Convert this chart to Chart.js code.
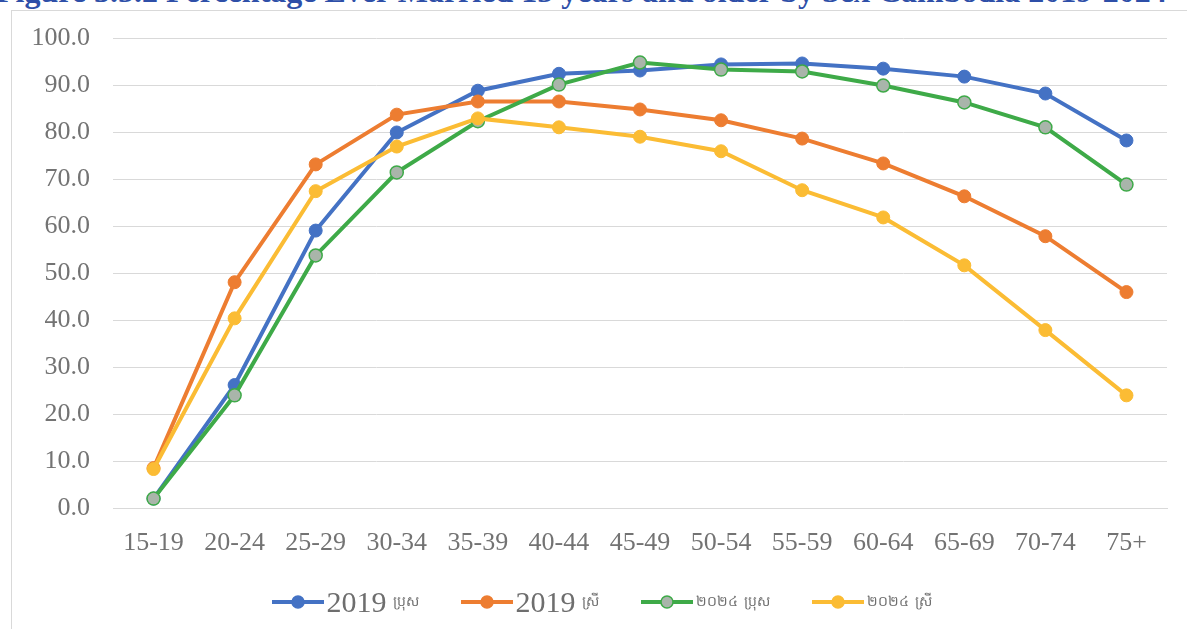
<!DOCTYPE html>
<html>
<head>
<meta charset="utf-8">
<script src="https://cdn.jsdelivr.net/npm/chart.js@4/dist/chart.umd.min.js"></script>
<style>
  html, body { margin: 0; padding: 0; background: #fff; }
  body { width: 1187px; height: 629px; position: relative; overflow: hidden; }
  #title { position: absolute; left: -4px; top: -27px; white-space: nowrap;
    font-family: "Liberation Serif", serif; font-weight: bold; font-size: 32px; color: #2E4FA8; }
  #frame { position: absolute; left: 11px; top: 10px; width: 1300px; height: 700px;
    border: 1px solid #d9d9d9; box-sizing: border-box; }
  #wrap { position: absolute; left: 0; top: 0; width: 1187px; height: 629px; }
  #legend { position: absolute; top: 585px; left: 8px; width: 1187px; display: flex; justify-content: center;
    align-items: center; gap: 0; font-family: "Liberation Serif", serif; color: #6e6e6e; }
  .item { display: flex; align-items: center; margin: 0 21px; }
  .item canvas { margin-right: 3px; }
  .yr { font-size: 30px; }
  .km { font-size: 14px; margin-left: 6px; }
</style>
</head>
<body>
<div id="title">Figure 3.5.2 Percentage Ever Married 15 years and older by Sex Cambodia 2019-2024</div>
<div id="frame"></div>
<div id="wrap"><canvas id="c" width="1187" height="629"></canvas></div>
<div id="legend"></div>
<script>
const categories = ["15-19","20-24","25-29","30-34","35-39","40-44","45-49","50-54","55-59","60-64","65-69","70-74","75+"];
const male2019   = [2.0, 26.2, 59.1, 80.0, 88.9, 92.5, 93.2, 94.5, 94.7, 93.6, 91.9, 88.3, 78.3];
const female2019 = [8.5, 48.1, 73.2, 83.8, 86.6, 86.6, 84.9, 82.6, 78.7, 73.4, 66.4, 57.9, 46.0];
const male2024   = [2.0, 24.0, 53.8, 71.5, 82.4, 90.2, 94.9, 93.4, 93.0, 90.0, 86.4, 81.1, 68.9];
const female2024 = [8.3, 40.4, 67.5, 77.0, 83.0, 81.1, 79.1, 76.0, 67.7, 61.9, 51.7, 37.9, 24.0];
const yTicks = [0,10,20,30,40,50,60,70,80,90,100];
const seriesNames = [["2019", "ប្រុស"], ["2019", "ស្រី"], ["២០២៤", "ប្រុស"], ["២០២៤", "ស្រី"]];

const colors = ["#4472C4", "#ED7D31", "#3EAA48", "#FBBC34"];
const pointFills = ["#4472C4", "#ED7D31", "#A9B5AA", "#FBBC34"];

function ds(label, data, i) {
  return {
    label, data,
    borderColor: colors[i], backgroundColor: pointFills[i],
    pointBackgroundColor: pointFills[i], pointBorderColor: colors[i],
    pointBorderWidth: i === 2 ? 1.5 : 1,
    borderWidth: 4, pointRadius: 6.5, pointHoverRadius: 6.5,
    tension: 0, order: 4 - i
  };
}

const FONT = "Liberation Serif";
const TICK = "#737373";
new Chart(document.getElementById('c'), {
  type: 'line',
  data: {
    labels: categories,
    datasets: [
      ds(seriesNames[0].join(' '), male2019, 0),
      ds(seriesNames[1].join(' '), female2019, 1),
      ds(seriesNames[2].join(' '), male2024, 2),
      ds(seriesNames[3].join(' '), female2024, 3)
    ]
  },
  options: {
    responsive: false, animation: false,
    layout: { padding: { top: 38, right: 20, left: 0, bottom: 0 } },
    plugins: { legend: { display: false }, tooltip: { enabled: false }, title: { display: false } },
    scales: {
      x: {
        offset: true,
        grid: { display: false, drawTicks: false },
        border: { display: true, color: "#d9d9d9", width: 1 },
        ticks: { color: TICK, font: { family: FONT, size: 26 }, padding: 20, maxRotation: 0, autoSkip: false },
        afterFit: s => { s.height = 121; }
      },
      y: {
        min: 0, max: 100,
        afterBuildTicks: s => { s.ticks = yTicks.map(v => ({ value: v })); },
        grid: { color: "#d9d9d9", lineWidth: 1, drawTicks: false },
        border: { display: false },
        ticks: { color: TICK, font: { family: FONT, size: 26 }, padding: 23,
                 callback: v => Number(v).toFixed(1) },
        afterFit: s => { s.width = 113; }
      }
    }
  }
});

// HTML legend
const leg = document.getElementById('legend');
seriesNames.forEach((n, i) => {
  const it = document.createElement('div'); it.className = 'item';
  const cv = document.createElement('canvas'); cv.width = 52; cv.height = 16;
  const g = cv.getContext('2d');
  g.strokeStyle = colors[i]; g.lineWidth = 4; g.beginPath(); g.moveTo(0, 8); g.lineTo(52, 8); g.stroke();
  g.beginPath(); g.arc(26, 8, 6, 0, Math.PI * 2); g.fillStyle = pointFills[i]; g.fill();
  g.lineWidth = 1.5; g.strokeStyle = colors[i]; g.stroke();
  it.appendChild(cv);
  const a = document.createElement('span'); a.className = i < 2 ? 'yr' : 'km'; a.textContent = n[0];
  if (i >= 2) a.style.marginLeft = '0';
  const b = document.createElement('span'); b.className = 'km'; b.textContent = n[1];
  it.appendChild(a); it.appendChild(b);
  leg.appendChild(it);
});
</script>
</body>
</html>
